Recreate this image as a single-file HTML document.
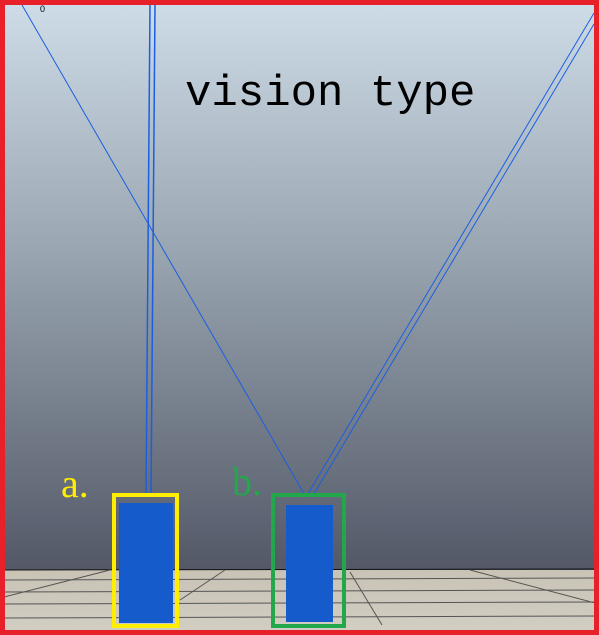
<!DOCTYPE html>
<html><head><meta charset="utf-8"><style>
html,body{margin:0;padding:0;width:599px;height:635px;overflow:hidden;background:#fff}
svg{display:block}
</style></head><body>
<svg width="599" height="635" viewBox="0 0 599 635">
<defs>
<linearGradient id="sky" x1="0" y1="0" x2="0" y2="1">
<stop offset="0" stop-color="#cfdde9"/>
<stop offset="0.45" stop-color="#98a4b0"/>
<stop offset="1" stop-color="#535867"/>
</linearGradient>
<linearGradient id="floor" x1="0" y1="0" x2="0" y2="1">
<stop offset="0" stop-color="#c9c3b6"/>
<stop offset="1" stop-color="#d3cec3"/>
</linearGradient>
</defs>
<rect x="0" y="0" width="599" height="570" fill="url(#sky)"/>
<g>
<rect x="0" y="570" width="599" height="65" fill="url(#floor)"/>
<line x1="0" y1="570" x2="599" y2="569" stroke="#111" stroke-width="1"/>
<g stroke="#555" stroke-width="1">
<line x1="0" y1="580" x2="599" y2="578"/>
<line x1="0" y1="592" x2="599" y2="590"/>
<line x1="0" y1="604" x2="599" y2="602"/>
<line x1="0" y1="618" x2="599" y2="616"/>
<line x1="0" y1="598" x2="110" y2="570"/>
<line x1="180" y1="600" x2="225" y2="570"/>
<line x1="350" y1="572" x2="382" y2="625"/>
<line x1="470" y1="570" x2="599" y2="604"/>
</g>
</g>
<g stroke="#1a5fe0" fill="none">
<line x1="150" y1="5" x2="146" y2="497" stroke-width="1.5"/>
<line x1="155" y1="5" x2="151" y2="497" stroke-width="1.5"/>
<line x1="22" y1="5" x2="306" y2="497" stroke-width="1"/>
<line x1="594" y1="13" x2="306" y2="497" stroke-width="1"/>
<line x1="594" y1="24" x2="312" y2="497" stroke-width="1"/>
</g>
<text x="185" y="105" font-family="Liberation Mono, monospace" font-size="44" fill="#000">vision type</text>
<text x="40" y="12" font-family="Liberation Sans, sans-serif" font-size="9" fill="#000">0</text>
<g>
<rect x="119" y="503" width="54" height="120" fill="#155bcc"/>
<rect x="114" y="495" width="63" height="131" fill="none" stroke="#ffee00" stroke-width="4"/>
<text x="61" y="497" font-family="Liberation Serif, serif" font-size="40" fill="#ffee00">a.</text>
</g>
<g>
<rect x="286" y="505" width="47" height="117" fill="#155bcc"/>
<rect x="273" y="495" width="71" height="131" fill="none" stroke="#22a84a" stroke-width="4"/>
<text x="232" y="495" font-family="Liberation Serif, serif" font-size="40" fill="#22a84a">b.</text>
</g>
<rect x="2.5" y="2.5" width="594" height="630" fill="none" stroke="#e8202a" stroke-width="5"/>
</svg>
</body></html>
